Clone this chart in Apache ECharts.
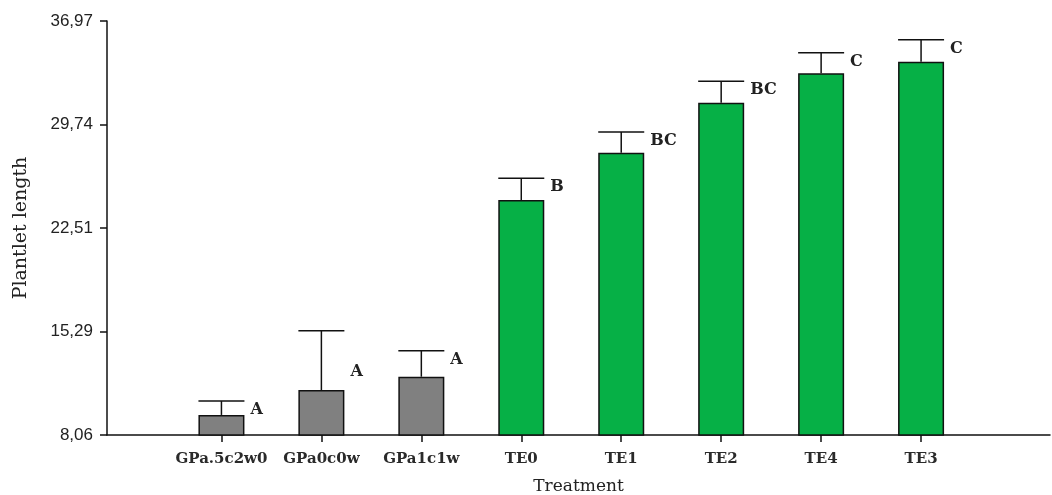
<!DOCTYPE html>
<html>
<head>
<meta charset="utf-8">
<script src="https://cdn.jsdelivr.net/npm/echarts@6/dist/echarts.min.js"></script>
<style>
  html, body { margin: 0; padding: 0; background: #fff; }
  #chart { width: 1052px; height: 495px; }
</style>
</head>
<body>
<div id="chart"></div>
<script>
// Treatments in plotting order
const categories = ['GPa.5c2w0', 'GPa0c0w', 'GPa1c1w', 'TE0', 'TE1', 'TE2', 'TE4', 'TE3'];
// Mean plantlet length per treatment
const means = [9.46, 11.20, 12.13, 24.47, 27.77, 31.26, 33.32, 34.13];
// Upper error (standard deviation) per treatment
const errors = [0.97, 4.14, 1.82, 1.52, 1.45, 1.50, 1.44, 1.53];
// Significance groups
const groups = ['A', 'A', 'A', 'B', 'BC', 'BC', 'C', 'C'];
// Group of each treatment: 0 = GPa, 1 = TE
const kind = [0, 0, 0, 1, 1, 1, 1, 1];
// Y-axis tick labels
const yTicks = [8.06, 15.29, 22.51, 29.74, 36.97];

const COLORS = ['#808080', '#06b046'];
const BAR_W = 46;
const LETTER_REACH = 1.9;   // letters sit no higher than this above the bar top
const serif = '"DejaVu Serif", serif';
const sans = '"Liberation Sans", Arial, sans-serif';

const idx = categories.map((_, i) => i);

const barData = means.map((m, i) => ({
  value: [i, m],
  itemStyle: { color: COLORS[kind[i]] }
}));

const errData = means.map((m, i) => [i, m, m + errors[i]]);

const chart = echarts.init(document.getElementById('chart'), null, { renderer: 'canvas' });

chart.setOption({
  animation: false,
  backgroundColor: '#ffffff',
  grid: { left: 107, right: 2, top: 21, bottom: 60, containLabel: false, outerBoundsMode: 'none' },
  xAxis: {
    type: 'value',
    min: -1.145,
    max: 8.29,
    splitLine: { show: false },
    axisLine: { show: true, onZero: false, lineStyle: { color: '#111', width: 1.5 } },
    axisTick: { show: true, customValues: idx, length: 7, lineStyle: { color: '#111', width: 1.5 } },
    axisLabel: {
      customValues: idx,
      formatter: v => categories[Math.round(v)],
      margin: 17,
      fontFamily: serif,
      fontWeight: 'bold',
      fontSize: 15,
      color: '#2a2a2a'
    },
    name: 'Treatment',
    nameLocation: 'middle',
    nameGap: 43,
    nameTextStyle: { fontFamily: serif, fontSize: 17, color: '#222' }
  },
  yAxis: {
    type: 'value',
    min: 8.06,
    max: 36.97,
    splitLine: { show: false },
    axisLine: { show: true, onZero: false, lineStyle: { color: '#111', width: 1.5 } },
    axisTick: { show: true, customValues: yTicks, length: 7, lineStyle: { color: '#111', width: 1.5 } },
    axisLabel: {
      customValues: yTicks,
      formatter: v => v.toFixed(2).replace('.', ','),
      margin: 14,
      fontFamily: sans,
      fontSize: 17,
      color: '#222'
    },
    name: 'Plantlet length',
    nameLocation: 'middle',
    nameGap: 76,
    nameTextStyle: { fontFamily: serif, fontSize: 19, color: '#222' }
  },
  series: [
    {
      type: 'bar',
      barWidth: BAR_W,
      data: barData,
      itemStyle: { borderColor: '#111', borderWidth: 1.5 },
      z: 2
    },
    {
      // upper error whisker with cap, plus the significance letter
      type: 'custom',
      data: errData,
      z: 3,
      renderItem: (params, api) => {
        const i = api.value(0);
        const m = api.value(1);
        const hi = api.value(2);
        const base = api.coord([i, m]);
        const cap = api.coord([i, hi]);
        const half = BAR_W / 2;
        const letterY = api.coord([i, Math.min(hi, m + LETTER_REACH)])[1] + 9;
        const stroke = { stroke: '#111', lineWidth: 1.5 };
        return {
          type: 'group',
          children: [
            { type: 'line', shape: { x1: base[0], y1: base[1], x2: cap[0], y2: cap[1] }, style: stroke },
            { type: 'line', shape: { x1: cap[0] - half, y1: cap[1], x2: cap[0] + half, y2: cap[1] }, style: stroke },
            {
              type: 'text',
              x: base[0] + half + 6,
              y: letterY,
              style: {
                text: groups[params.dataIndex],
                fill: '#222',
                font: 'bold 16px ' + serif,
                textAlign: 'left',
                textVerticalAlign: 'middle'
              }
            }
          ]
        };
      }
    }
  ]
});
</script>
</body>
</html>
